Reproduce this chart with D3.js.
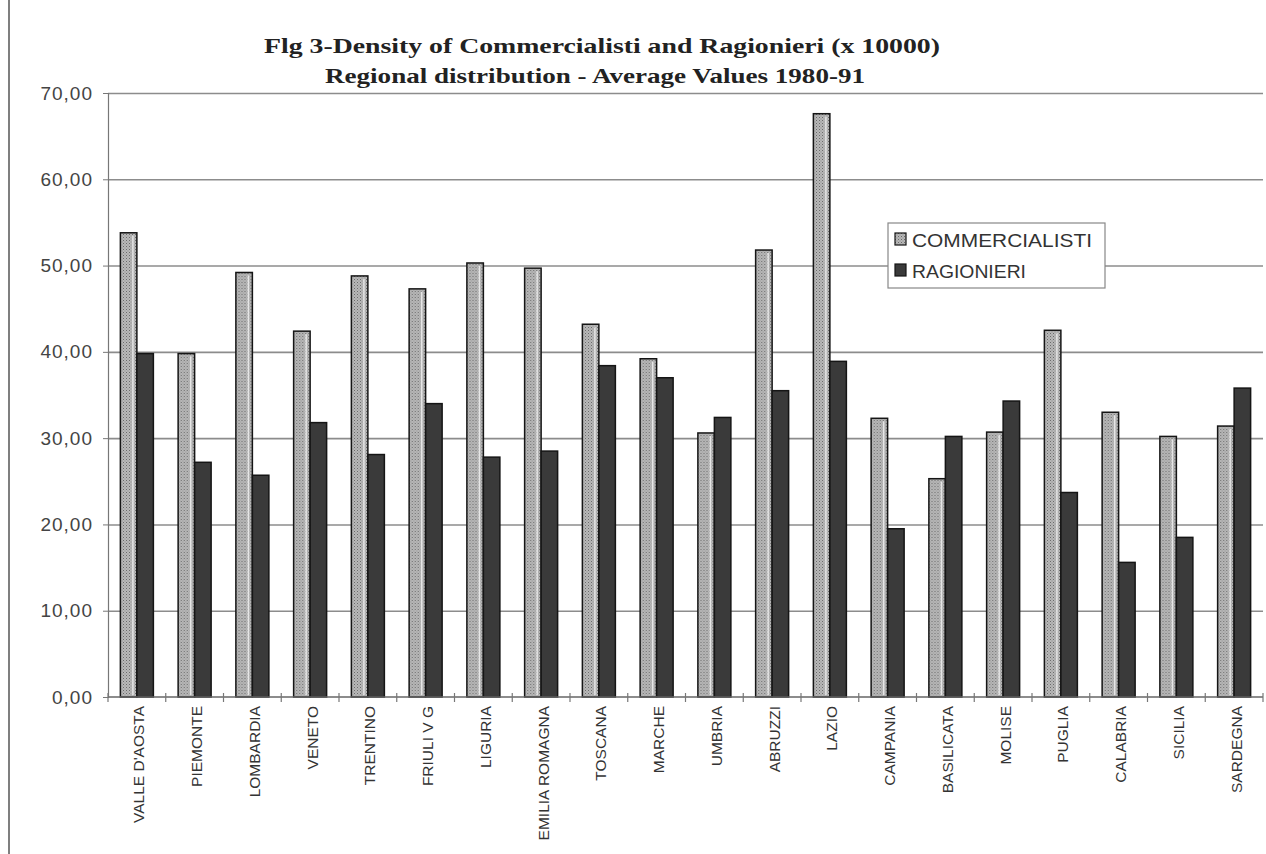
<!DOCTYPE html>
<html><head><meta charset="utf-8">
<script src="https://cdn.jsdelivr.net/npm/d3@7"></script>
<style>body{margin:0;background:#fff}</style>
</head><body><svg id="c" width="1266" height="854"></svg>
<script>
const regions = ["VALLE D'AOSTA","PIEMONTE","LOMBARDIA","VENETO","TRENTINO","FRIULI V G","LIGURIA","EMILIA ROMAGNA","TOSCANA","MARCHE","UMBRIA","ABRUZZI","LAZIO","CAMPANIA","BASILICATA","MOLISE","PUGLIA","CALABRIA","SICILIA","SARDEGNA"];
const commercialisti = [53.8,39.8,49.2,42.4,48.8,47.3,50.3,49.7,43.2,39.2,30.6,51.8,67.6,32.3,25.3,30.7,42.5,33.0,30.2,31.4];
const ragionieri = [39.8,27.2,25.7,31.8,28.1,34.0,27.8,28.5,38.4,37.0,32.4,35.5,38.9,19.5,30.2,34.3,23.7,15.6,18.5,35.8];
const seriesNames = ["COMMERCIALISTI","RAGIONIERI"];
const yTicks = [0,10,20,30,40,50,60,70];
const titleLines = ["Flg 3-Density of Commercialisti and Ragionieri (x 10000)","Regional distribution - Average Values 1980-91"];

const svg = d3.select("#c");
const L = 108, R = 1263, T = 93, B = 697;
const x = d3.scaleBand().domain(regions).range([L, R]);
const inner = d3.scaleBand().domain(seriesNames).range([0, x.bandwidth()]).paddingInner(0).paddingOuter(0.75);
const y = d3.scaleLinear().domain([0, 70]).range([B, T]);

const defs = svg.append("defs");
const pat = defs.append("pattern").attr("id","dots").attr("width",3).attr("height",3).attr("patternUnits","userSpaceOnUse");
pat.append("rect").attr("width",3).attr("height",3).attr("fill","#b8b8b8");
pat.append("rect").attr("width",1).attr("height",1).attr("fill","#6a6a6a");
pat.append("rect").attr("x",1.5).attr("y",1.5).attr("width",1).attr("height",1).attr("fill","#8a8a8a");

// frame line on the left
svg.append("line").attr("x1",9).attr("x2",9).attr("y1",0).attr("y2",854).attr("stroke","#555").attr("stroke-width",1.5);

// gridlines
svg.append("g").attr("transform",`translate(${L},0)`)
  .call(d3.axisLeft(y).tickValues(yTicks.filter(d=>d>0)).tickSize(-(R-L)).tickFormat(""))
  .call(g=>g.select(".domain").remove())
  .call(g=>g.selectAll("line").attr("stroke","#8c8c8c").attr("stroke-width",1.6));

// y axis
const ya = svg.append("g").attr("transform",`translate(${L},0)`)
  .call(d3.axisLeft(y).tickValues(yTicks).tickSize(5).tickPadding(10).tickFormat(d=>d.toFixed(2).replace(".",",")));
ya.select(".domain").attr("stroke","#777").attr("stroke-width",1.2);
ya.selectAll("line").attr("stroke","#777");
ya.selectAll("text").attr("font-family","Liberation Sans, Arial, sans-serif").attr("font-size",19).attr("letter-spacing",1).attr("fill","#444");

// bars
const data = regions.map((r,i)=>({r, vals:[{s:seriesNames[0],v:commercialisti[i]},{s:seriesNames[1],v:ragionieri[i]}]}));
const grp = svg.append("g").selectAll("g").data(data).join("g").attr("transform",d=>`translate(${x(d.r)},0)`);
grp.selectAll("rect").data(d=>d.vals).join("rect")
  .attr("x",d=>inner(d.s)).attr("width",inner.bandwidth())
  .attr("y",d=>y(d.v)).attr("height",d=>y(0)-y(d.v))
  .attr("fill",d=>d.s===seriesNames[0]?"url(#dots)":"#3a3a3a")
  .attr("stroke","#151515").attr("stroke-width",1.5);
// inner highlight for commercialisti
grp.append("line")
  .attr("x1",d=>inner(seriesNames[0])+inner.bandwidth()-4).attr("x2",d=>inner(seriesNames[0])+inner.bandwidth()-4)
  .attr("y1",d=>y(d.vals[0].v)+3).attr("y2",y(0)-2)
  .attr("stroke","#e6e6e6").attr("stroke-width",1.5);

// x axis
svg.append("line").attr("x1",L).attr("x2",R).attr("y1",y(0)).attr("y2",y(0)).attr("stroke","#666").attr("stroke-width",1.5);
const bounds = d3.range(regions.length+1).map(i=>L + i*x.step());
svg.append("g").selectAll("line").data(bounds).join("line")
  .attr("x1",d=>d).attr("x2",d=>d).attr("y1",y(0)-4).attr("y2",y(0)+5).attr("stroke","#777").attr("stroke-width",1.2);
svg.append("g").selectAll("text").data(regions).join("text")
  .attr("transform",d=>`translate(${x(d)+x.bandwidth()/2+2},706) rotate(-90)`)
  .attr("text-anchor","end").attr("dy","0.35em")
  .attr("font-family","Liberation Sans, Arial, sans-serif").attr("font-size",15.5).attr("fill","#333")
  .text(d=>d);

// title
svg.append("g").selectAll("text").data(titleLines).join("text")
  .attr("x",(d,i)=>i===0?602:595).attr("y",(d,i)=>i===0?53:83)
  .attr("text-anchor","middle")
  .attr("font-family","Liberation Serif, Times New Roman, serif").attr("font-weight","bold").attr("font-size",22)
  .attr("fill","#222")
  .attr("textLength",(d,i)=>i===0?676:540).attr("lengthAdjust","spacingAndGlyphs")
  .text(d=>d);

// legend
const lg = svg.append("g");
lg.append("rect").attr("x",888).attr("y",223).attr("width",217).attr("height",65).attr("fill","#fff").attr("stroke","#888").attr("stroke-width",1.2);
const li = lg.selectAll("g").data(seriesNames).join("g").attr("transform",(d,i)=>`translate(895,${233+i*31})`);
li.append("rect").attr("width",11).attr("height",12)
  .attr("fill",(d,i)=>i===0?"url(#dots)":"#3a3a3a").attr("stroke","#151515").attr("stroke-width",1.2);
li.append("text").attr("x",17).attr("y",13.5)
  .attr("font-family","Liberation Sans, Arial, sans-serif").attr("font-size",19).attr("fill","#333")
  .attr("textLength",(d,i)=>i===0?180:114).attr("lengthAdjust","spacingAndGlyphs")
  .text(d=>d);
</script>
</body></html>
